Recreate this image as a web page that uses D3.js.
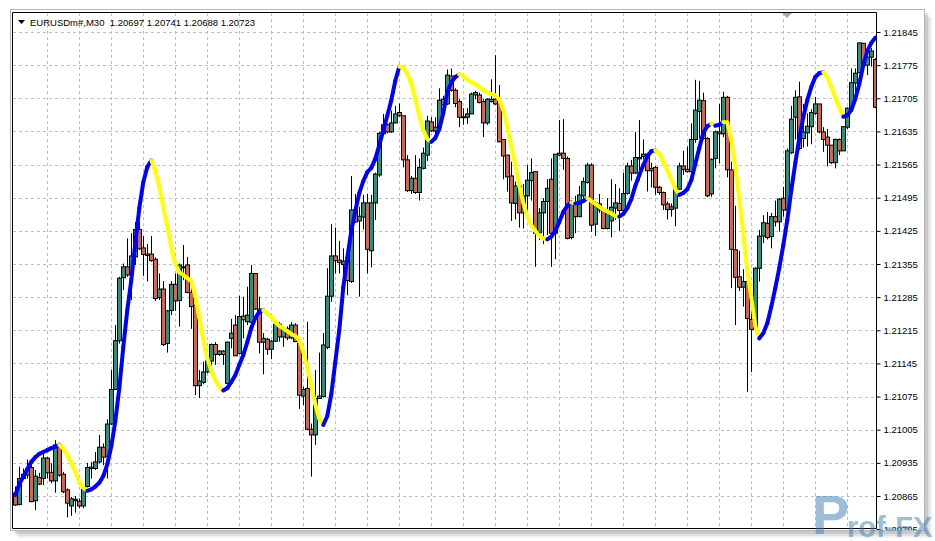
<!DOCTYPE html>
<html><head><meta charset="utf-8">
<script src="https://cdnjs.cloudflare.com/ajax/libs/d3/7.8.5/d3.min.js"></script>
<style>body{margin:0;background:#fff}svg{display:block}</style>
</head><body><svg id="c" width="935" height="541"></svg>
<script>
const symbolTitle = "EURUSDm#,M30  1.20697 1.20741 1.20688 1.20723";
const priceTicks = [1.21845,1.21775,1.21705,1.21635,1.21565,1.21495,1.21425,1.21355,1.21285,1.21215,1.21145,1.21075,1.21005,1.20935,1.20865,1.20795];
const open = [1.20871,1.20847,1.20902,1.20909,1.20925,1.20855,1.20904,1.20902,1.20945,1.20915,1.20897,1.20973,1.20911,1.20878,1.20844,1.20855,1.20854,1.20844,1.20885,1.20923,1.20923,1.20937,1.20968,1.20948,1.21017,1.21090,1.21193,1.21326,1.21349,1.21332,1.21370,1.21428,1.21389,1.21376,1.21376,1.21365,1.21284,1.21302,1.21187,1.21257,1.21312,1.21278,1.21347,1.21353,1.21295,1.21268,1.21098,1.21105,1.21127,1.21150,1.21185,1.21164,1.21171,1.21103,1.21198,1.21226,1.21166,1.21245,1.21233,1.21232,1.21335,1.21260,1.21190,1.21196,1.21175,1.21192,1.21228,1.21201,1.21219,1.21199,1.21226,1.21187,1.21076,1.21092,1.21006,1.20994,1.21071,1.21075,1.21179,1.21287,1.21372,1.21363,1.21354,1.21361,1.21318,1.21470,1.21446,1.21454,1.21484,1.21383,1.21484,1.21543,1.21630,1.21649,1.21634,1.21653,1.21675,1.21668,1.21575,1.21510,1.21536,1.21506,1.21557,1.21585,1.21655,1.21636,1.21644,1.21703,1.21693,1.21752,1.21722,1.21698,1.21666,1.21665,1.21672,1.21712,1.21712,1.21698,1.21653,1.21698,1.21703,1.21698,1.21618,1.21585,1.21541,1.21483,1.21520,1.21463,1.21499,1.21531,1.21550,1.21421,1.21463,1.21487,1.21534,1.21420,1.21585,1.21589,1.21578,1.21411,1.21482,1.21455,1.21499,1.21527,1.21564,1.21439,1.21482,1.21469,1.21430,1.21446,1.21473,1.21483,1.21468,1.21504,1.21562,1.21547,1.21577,1.21582,1.21587,1.21552,1.21559,1.21517,1.21506,1.21482,1.21470,1.21473,1.21513,1.21562,1.21555,1.21550,1.21618,1.21677,1.21700,1.21620,1.21503,1.21578,1.21634,1.21630,1.21707,1.21554,1.21385,1.21328,1.21306,1.21318,1.21238,1.21219,1.21346,1.21414,1.21441,1.21413,1.21455,1.21444,1.21494,1.21469,1.21590,1.21665,1.21708,1.21620,1.21632,1.21645,1.21673,1.21693,1.21634,1.21623,1.21606,1.21569,1.21618,1.21594,1.21644,1.21686,1.21737,1.21759,1.21821,1.21775,1.21792,1.21787];
const high = [1.20885,1.20927,1.20923,1.20942,1.20930,1.20920,1.20914,1.20955,1.20948,1.20934,1.20983,1.20978,1.20916,1.20881,1.20863,1.20865,1.20860,1.20888,1.20935,1.20937,1.20958,1.20994,1.20976,1.21027,1.21131,1.21226,1.21328,1.21356,1.21409,1.21420,1.21444,1.21444,1.21414,1.21397,1.21414,1.21369,1.21335,1.21319,1.21258,1.21319,1.21335,1.21356,1.21395,1.21370,1.21315,1.21270,1.21131,1.21149,1.21166,1.21187,1.21190,1.21173,1.21173,1.21191,1.21239,1.21247,1.21288,1.21286,1.21307,1.21353,1.21335,1.21286,1.21209,1.21199,1.21194,1.21230,1.21232,1.21223,1.21223,1.21232,1.21230,1.21191,1.21096,1.21233,1.21018,1.21131,1.21168,1.21209,1.21346,1.21439,1.21432,1.21404,1.21388,1.21367,1.21541,1.21503,1.21476,1.21501,1.21503,1.21501,1.21548,1.21634,1.21672,1.21652,1.21679,1.21689,1.21694,1.21668,1.21585,1.21541,1.21585,1.21578,1.21601,1.21668,1.21665,1.21665,1.21726,1.21710,1.21766,1.21768,1.21726,1.21703,1.21684,1.21684,1.21717,1.21721,1.21717,1.21703,1.21705,1.21745,1.21796,1.21733,1.21618,1.21585,1.21571,1.21529,1.21522,1.21524,1.21564,1.21578,1.21550,1.21473,1.21494,1.21534,1.21578,1.21587,1.21659,1.21661,1.21582,1.21490,1.21499,1.21520,1.21538,1.21569,1.21568,1.21487,1.21503,1.21470,1.21494,1.21534,1.21524,1.21515,1.21548,1.21569,1.21575,1.21634,1.21659,1.21618,1.21590,1.21569,1.21562,1.21520,1.21508,1.21487,1.21483,1.21520,1.21569,1.21594,1.21603,1.21652,1.21744,1.21742,1.21717,1.21623,1.21578,1.21637,1.21693,1.21719,1.21710,1.21571,1.21478,1.21383,1.21344,1.21344,1.21293,1.21348,1.21427,1.21458,1.21465,1.21463,1.21489,1.21494,1.21518,1.21599,1.21689,1.21722,1.21740,1.21693,1.21673,1.21682,1.21708,1.21693,1.21644,1.21640,1.21606,1.21620,1.21620,1.21646,1.21686,1.21768,1.21768,1.21822,1.21822,1.21805,1.21811,1.21790];
const low = [1.20844,1.20845,1.20899,1.20902,1.20852,1.20835,1.20888,1.20888,1.20902,1.20892,1.20872,1.20906,1.20871,1.20820,1.20823,1.20830,1.20839,1.20839,1.20883,1.20902,1.20920,1.20934,1.20930,1.20902,1.21015,1.21089,1.21187,1.21300,1.21328,1.21279,1.21353,1.21385,1.21330,1.21318,1.21360,1.21277,1.21279,1.21182,1.21168,1.21247,1.21256,1.21223,1.21321,1.21293,1.21218,1.21078,1.21072,1.21101,1.21124,1.21138,1.21142,1.21161,1.21142,1.21101,1.21177,1.21161,1.21164,1.21198,1.21226,1.21230,1.21258,1.21166,1.21122,1.21163,1.21154,1.21191,1.21191,1.21180,1.21194,1.21196,1.21190,1.21049,1.21057,1.21004,1.20906,1.20973,1.21071,1.21073,1.21175,1.21275,1.21335,1.21335,1.21314,1.21289,1.21315,1.21442,1.21286,1.21428,1.21335,1.21348,1.21448,1.21539,1.21627,1.21631,1.21632,1.21652,1.21666,1.21559,1.21507,1.21503,1.21503,1.21489,1.21555,1.21573,1.21634,1.21623,1.21642,1.21680,1.21691,1.21719,1.21686,1.21644,1.21649,1.21651,1.21672,1.21703,1.21694,1.21623,1.21649,1.21696,1.21691,1.21613,1.21534,1.21508,1.21446,1.21449,1.21432,1.21430,1.21462,1.21489,1.21349,1.21406,1.21397,1.21416,1.21349,1.21365,1.21582,1.21554,1.21407,1.21407,1.21420,1.21454,1.21484,1.21525,1.21423,1.21414,1.21463,1.21428,1.21428,1.21411,1.21448,1.21425,1.21465,1.21501,1.21531,1.21545,1.21531,1.21576,1.21508,1.21517,1.21501,1.21501,1.21469,1.21449,1.21455,1.21435,1.21511,1.21543,1.21548,1.21548,1.21611,1.21620,1.21618,1.21496,1.21497,1.21557,1.21568,1.21623,1.21538,1.21304,1.21226,1.21298,1.21265,1.21085,1.21127,1.21217,1.21318,1.21399,1.21407,1.21388,1.21434,1.21423,1.21455,1.21468,1.21587,1.21618,1.21596,1.21601,1.21603,1.21608,1.21670,1.21631,1.21592,1.21561,1.21566,1.21557,1.21585,1.21594,1.21640,1.21684,1.21716,1.21758,1.21773,1.21754,1.21772,1.21684];
const close = [1.20846,1.20902,1.20911,1.20923,1.20853,1.20907,1.20890,1.20945,1.20914,1.20897,1.20973,1.20909,1.20874,1.20850,1.20859,1.20858,1.20844,1.20885,1.20925,1.20926,1.20937,1.20968,1.20947,1.21017,1.21090,1.21193,1.21325,1.21349,1.21332,1.21372,1.21428,1.21387,1.21375,1.21373,1.21362,1.21282,1.21302,1.21185,1.21256,1.21312,1.21277,1.21353,1.21349,1.21295,1.21265,1.21098,1.21108,1.21127,1.21150,1.21185,1.21164,1.21171,1.21164,1.21190,1.21209,1.21161,1.21244,1.21237,1.21247,1.21335,1.21260,1.21190,1.21198,1.21175,1.21192,1.21228,1.21201,1.21217,1.21199,1.21226,1.21191,1.21078,1.21090,1.21006,1.20994,1.21071,1.21076,1.21184,1.21287,1.21372,1.21362,1.21358,1.21361,1.21320,1.21469,1.21444,1.21456,1.21484,1.21386,1.21484,1.21545,1.21631,1.21649,1.21634,1.21653,1.21672,1.21668,1.21575,1.21510,1.21536,1.21506,1.21559,1.21589,1.21657,1.21636,1.21644,1.21701,1.21691,1.21754,1.21722,1.21694,1.21665,1.21665,1.21672,1.21714,1.21717,1.21696,1.21653,1.21703,1.21703,1.21693,1.21613,1.21583,1.21539,1.21484,1.21520,1.21463,1.21499,1.21532,1.21548,1.21420,1.21463,1.21487,1.21515,1.21420,1.21587,1.21589,1.21578,1.21409,1.21484,1.21455,1.21501,1.21529,1.21564,1.21437,1.21484,1.21469,1.21430,1.21463,1.21475,1.21484,1.21468,1.21504,1.21562,1.21547,1.21580,1.21580,1.21587,1.21552,1.21557,1.21517,1.21506,1.21480,1.21470,1.21476,1.21517,1.21562,1.21555,1.21550,1.21618,1.21680,1.21701,1.21620,1.21499,1.21576,1.21634,1.21630,1.21707,1.21554,1.21386,1.21327,1.21306,1.21318,1.21240,1.21217,1.21346,1.21414,1.21442,1.21411,1.21455,1.21444,1.21492,1.21469,1.21594,1.21661,1.21707,1.21599,1.21634,1.21646,1.21675,1.21693,1.21634,1.21618,1.21606,1.21569,1.21618,1.21594,1.21645,1.21684,1.21738,1.21758,1.21822,1.21775,1.21792,1.21805,1.21686];
const trend = [1.20867,1.20890,1.20906,1.20922,1.20937,1.20947,1.20954,1.20958,1.20962,1.20966,1.20969,1.20973,1.20965,1.20951,1.20935,1.20916,1.20894,1.20882,1.20876,1.20879,1.20885,1.20893,1.20907,1.20932,1.20970,1.21023,1.21093,1.21180,1.21258,1.21321,1.21399,1.21473,1.21528,1.21560,1.21574,1.21553,1.21518,1.21475,1.21435,1.21389,1.21355,1.21337,1.21332,1.21325,1.21319,1.21287,1.21241,1.21194,1.21156,1.21129,1.21110,1.21095,1.21088,1.21093,1.21106,1.21120,1.21142,1.21163,1.21190,1.21220,1.21241,1.21254,1.21257,1.21250,1.21243,1.21232,1.21224,1.21219,1.21213,1.21207,1.21203,1.21194,1.21169,1.21137,1.21097,1.21059,1.21028,1.21015,1.21034,1.21080,1.21148,1.21216,1.21306,1.21368,1.21425,1.21467,1.21505,1.21530,1.21549,1.21558,1.21577,1.21606,1.21638,1.21668,1.21701,1.21742,1.21772,1.21769,1.21756,1.21737,1.21704,1.21668,1.21638,1.21619,1.21613,1.21621,1.21640,1.21674,1.21718,1.21739,1.21750,1.21755,1.21752,1.21744,1.21739,1.21735,1.21729,1.21722,1.21717,1.21714,1.21711,1.21702,1.21680,1.21644,1.21604,1.21564,1.21520,1.21484,1.21456,1.21437,1.21425,1.21414,1.21409,1.21407,1.21413,1.21425,1.21444,1.21465,1.21478,1.21485,1.21483,1.21484,1.21488,1.21494,1.21488,1.21482,1.21476,1.21470,1.21466,1.21462,1.21456,1.21455,1.21461,1.21473,1.21492,1.21520,1.21543,1.21564,1.21582,1.21593,1.21595,1.21588,1.21570,1.21553,1.21534,1.21514,1.21501,1.21505,1.21513,1.21532,1.21566,1.21600,1.21632,1.21646,1.21651,1.21647,1.21649,1.21655,1.21654,1.21617,1.21558,1.21492,1.21420,1.21340,1.21285,1.21224,1.21198,1.21209,1.21230,1.21265,1.21304,1.21347,1.21395,1.21448,1.21511,1.21568,1.21621,1.21665,1.21701,1.21729,1.21750,1.21758,1.21760,1.21750,1.21729,1.21706,1.21685,1.21666,1.21669,1.21680,1.21704,1.21735,1.21775,1.21805,1.21822,1.21833];

const svg = d3.select("#c");
const plot = {l: 13, t: 13, r: 876, b: 528};
const N = open.length;
const x = d3.scaleLinear().domain([0, N - 1]).range([15.3, 875.3]);
const y = d3.scaleLinear().domain([1.20865, 1.21845]).range([496, 32]);
const FONT = "'Liberation Sans', Arial, sans-serif";

// window shadow + frame
const sh = svg.append("g");
[[0.05,6],[0.07,4],[0.1,2]].forEach(([op,o]) => {
  sh.append("rect").attr("x", 12 + o).attr("y", 11 + o).attr("width", 914).attr("height", 521)
    .attr("fill", "#000").attr("opacity", op);
});
svg.append("rect").attr("x", 10.5).attr("y", 9.5).attr("width", 914).attr("height", 521)
  .attr("fill", "#fff").attr("stroke", "#b4b4b4");

const defs = svg.append("defs");
defs.append("clipPath").attr("id", "pc").append("rect")
  .attr("x", plot.l).attr("y", plot.t).attr("width", plot.r - plot.l).attr("height", plot.b - plot.t);
defs.append("clipPath").attr("id", "wc").append("rect")
  .attr("x", 11).attr("y", 10).attr("width", 913).attr("height", 520);

const g = svg.append("g").attr("clip-path", "url(#pc)");

// grid
const gridIdx = d3.range(8, N, 8);
g.selectAll("line.vg").data(gridIdx).join("line")
  .attr("x1", d => Math.round(x(d)) + 0.5).attr("x2", d => Math.round(x(d)) + 0.5)
  .attr("y1", plot.t).attr("y2", plot.b)
  .attr("stroke", "#c0c0c0").attr("stroke-dasharray", "3,3");
g.selectAll("line.hg").data(priceTicks).join("line")
  .attr("x1", plot.l).attr("x2", plot.r)
  .attr("y1", d => Math.round(y(d)) + 0.5).attr("y2", d => Math.round(y(d)) + 0.5)
  .attr("stroke", "#c0c0c0").attr("stroke-dasharray", "3,3");

// candles
const bars = d3.range(N).map(i => ({i, o: open[i], h: high[i], l: low[i], c: close[i]}));
const cg = g.append("g");
cg.selectAll("line.w").data(bars).join("line")
  .attr("x1", d => Math.round(x(d.i)) + 0.5).attr("x2", d => Math.round(x(d.i)) + 0.5)
  .attr("y1", d => y(d.h)).attr("y2", d => y(d.l))
  .attr("stroke", "#000").attr("stroke-width", 1);
cg.selectAll("rect.b").data(bars).join("rect")
  .attr("x", d => Math.round(x(d.i)) - 1.5)
  .attr("width", 4)
  .attr("y", d => Math.min(y(d.o), y(d.c)))
  .attr("height", d => Math.max(1, Math.abs(y(d.o) - y(d.c))))
  .attr("fill", d => d.c >= d.o ? "#2f8f7c" : "#d2654f")
  .attr("stroke", "#000").attr("stroke-width", 1);

// trend line with slope colouring
const segs = [];
let prevCol = "#0000ff";
for (let i = 1; i < N; i++) {
  const col = trend[i] > trend[i-1] ? "#0000ff" : (trend[i] < trend[i-1] ? "#ffff00" : prevCol);
  prevCol = col;
  segs.push({a: i - 1, b: i, col});
}
g.append("g").selectAll("line").data(segs).join("line")
  .attr("x1", d => x(d.a)).attr("x2", d => x(d.b))
  .attr("y1", d => y(trend[d.a])).attr("y2", d => y(trend[d.b]))
  .attr("stroke", d => d.col).attr("stroke-width", 4).attr("stroke-linecap", "round");

// plot frame
svg.append("path")
  .attr("d", `M${plot.l-0.5},${plot.b+0.5}V${plot.t-0.5}H${plot.r+0.5}V${plot.b+0.5}H${plot.l-0.5}`)
  .attr("fill", "none").attr("stroke", "#000").attr("stroke-width", 1);

// price axis
const ax = d3.axisRight(y).tickValues(priceTicks).tickFormat(d3.format(".5f")).tickSize(4).tickPadding(3);
const axWrap = svg.append("g").attr("clip-path", "url(#wc)");
const axg = axWrap.append("g").attr("transform", `translate(${plot.r + 0.5},0)`).call(ax);
axg.select(".domain").remove();
axg.selectAll(".tick line").attr("stroke", "#000");
axg.selectAll(".tick text").attr("fill", "#000").style("font-family", FONT).style("font-size", "9.5px");

// title
svg.append("path").attr("d", "M18,20 h7 l-3.5,4 z").attr("fill", "#000");
svg.append("text").attr("x", 30).attr("y", 26).text(symbolTitle)
  .style("white-space", "pre").attr("xml:space", "preserve")
  .style("font-family", FONT).style("font-size", "9.5px").attr("fill", "#000");

// chart shift marker
svg.append("path").attr("d", "M782,13 h10 l-5,5 z").attr("fill", "#a8a8a8");

// watermark
const wm = svg.append("g").attr("opacity", 0.5);
wm.append("text").attr("x", 812).attr("y", 534).text("P")
  .style("font-family", FONT).style("font-weight", "bold").style("font-size", "56px").attr("fill", "#3d7fb5");
wm.append("text").attr("x", 847).attr("y", 537).text("rof-FX")
  .style("font-family", FONT).style("font-weight", "bold").style("font-size", "29px").attr("fill", "#3d7fb5");
</script></body></html>
